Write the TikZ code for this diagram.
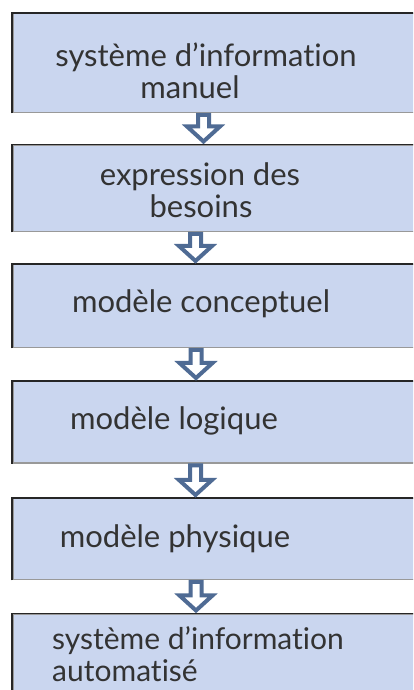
\documentclass[tikz,border=0pt]{standalone}
\usepackage{fontspec}
\setmainfont{Lato}[Ligatures={NoCommon}]
\usetikzlibrary{calc}

\definecolor{boxblue}{RGB}{202,214,239}
\definecolor{arrowblue}{RGB}{79,107,148}

\tikzset{
  box/.style={rectangle, fill=boxblue, draw=black!40, line width=1.5pt,
    anchor=north west, minimum width=410pt, inner sep=0pt},
  rim/.style={draw=black!85, line width=1.6pt},
  flow/.style={draw=arrowblue, fill=white, line width=4pt, line join=miter},
  lbl/.style={font=\fontsize{31}{34}\selectfont, text=black!80, inner sep=0pt, anchor=base}
}

\begin{document}
\begin{tikzpicture}[x=1pt,y=1pt]
  \path[use as bounding box, clip] (0,0) rectangle (413,690);

  % the six steps, top to bottom
  \node[box, minimum height=99pt]   (b1) at (12,677) {};
  \node[box, minimum height=86.5pt] (b2) at (12,545.5) {};
  \node[box, minimum height=83pt]   (b3) at (12,426) {};
  \node[box, minimum height=81.5pt] (b4) at (12,309) {};
  \node[box, minimum height=81pt]   (b5) at (12,192) {};
  \node[box, minimum height=90pt]   (b6) at (12,76.5) {};
  \foreach \b in {b1,b2,b3,b4,b5,b6}
    \draw[rim] (\b.south west) -- (\b.north west) -- (\b.north east);

  % texts
  \node[lbl] (t1a) at (206,623) {système d’information};
  \node[lbl] (t1b) at (190,591) {manuel};
  \node[lbl] (t2a) at (200,504) {expression des};
  \node[lbl] (t2b) at (201,472) {besoins};
  \node[lbl] (t3)  at (201,377) {modèle conceptuel};
  \node[lbl] (t4)  at (174,260) {modèle logique};
  \node[lbl] (t5)  at (175,142) {modèle physique};
  \node[lbl, anchor=base west, font=\fontsize{30}{32}\selectfont] (t6a) at (52,40) {système d’information};
  \node[lbl, anchor=base west, font=\fontsize{30}{32}\selectfont] (t6b) at (52,9)  {automatisé};

  % hollow block arrows between the steps
  \foreach \ta/\tb/\ax in {b1/b2/203.5, b2/b3/195.5, b3/b4/196, b4/b5/195.5, b5/b6/196}
    \draw[flow] let \p1 = (\ta.south), \p2 = (\tb.north) in
      ({\ax pt-5.5pt},{\y1-1.5pt}) -- ({\ax pt+5.5pt},{\y1-1.5pt})
      -- ({\ax pt+5.5pt},{\y2+18pt}) -- ({\ax pt+16.5pt},{\y2+18pt})
      -- ({\ax pt},{\y2+3pt}) -- ({\ax pt-16.5pt},{\y2+18pt})
      -- ({\ax pt-5.5pt},{\y2+18pt}) -- cycle;
\end{tikzpicture}
\end{document}
